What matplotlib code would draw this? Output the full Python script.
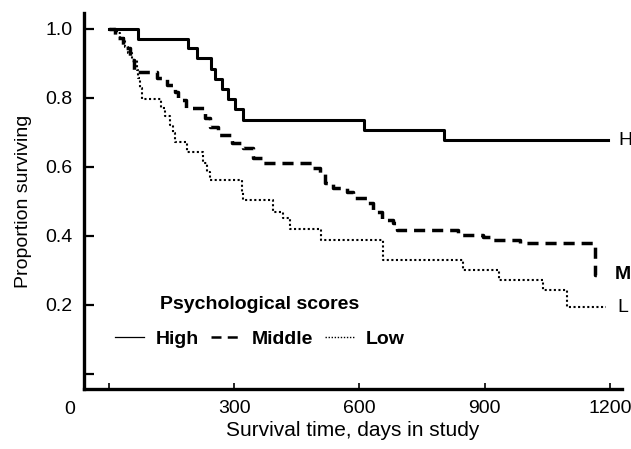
import matplotlib
matplotlib.use("Agg")
import matplotlib.pyplot as plt
from matplotlib.lines import Line2D

plt.rcParams['font.family'] = ['Liberation Sans', 'DejaVu Sans']

# Kaplan-Meier style step curves (days, proportion surviving)
h_days = [0, 70, 190, 210, 245, 255, 270, 285, 302, 320, 612, 802, 1195]
h_surv = [1.0, 0.970, 0.945, 0.915, 0.885, 0.855, 0.825, 0.797, 0.768, 0.735,
          0.707, 0.678, 0.678]

m_days = [0, 14, 34, 50, 60, 115, 139, 158, 165, 185, 230, 242, 261, 295, 320,
          345, 369, 489, 505, 517, 537, 570, 584, 618, 632, 654, 680, 690, 836,
          896, 913, 984, 1164, 1181]
m_surv = [1.0, 0.974, 0.945, 0.91, 0.875, 0.858, 0.838, 0.817, 0.794, 0.771,
          0.742, 0.716, 0.693, 0.67, 0.655, 0.626, 0.61, 0.597, 0.583, 0.554,
          0.539, 0.528, 0.51, 0.496, 0.47, 0.446, 0.438, 0.417, 0.403, 0.397,
          0.388, 0.38, 0.287, 0.287]

l_days = [0, 19, 26, 38, 46, 55, 67, 70, 74, 79, 125, 134, 146, 153, 158, 187,
          225, 235, 242, 318, 321, 393, 417, 434, 508, 657, 847, 934, 1040,
          1097, 1190]
l_surv = [1.0, 0.988, 0.974, 0.948, 0.93, 0.91, 0.881, 0.858, 0.829, 0.797,
          0.771, 0.748, 0.722, 0.697, 0.672, 0.643, 0.611, 0.585, 0.562, 0.528,
          0.504, 0.47, 0.452, 0.42, 0.388, 0.33, 0.301, 0.272, 0.243, 0.194,
          0.194]

x_ticks = [0, 300, 600, 900, 1200]
x_labels = ["", "300", "600", "900", "1200"]
y_ticks = [0, 0.2, 0.4, 0.6, 0.8, 1.0]
y_labels = ["", "0.2", "0.4", "0.6", "0.8", "1.0"]

fig = plt.figure(figsize=(6.31, 4.49), dpi=100)
ax = fig.add_axes([0.1331, 0.1336, 0.8526, 0.8374])

ax.step(h_days, h_surv, where='post', color='black', lw=2.2)
ax.step(m_days, m_surv, where='post', color='black', lw=2.5,
        linestyle=(0, (3.2, 2.0)))
ax.step(l_days, l_surv, where='post', color='black', lw=1.5,
        linestyle=(0, (1, 1.2)))

# end labels
ax.text(h_days[-1] + 25, h_surv[-1], "H", fontsize=14, va='center', clip_on=False)
ax.text(m_days[-1] + 30, m_surv[-1], "M", fontsize=14, va='center',
        fontweight='bold', clip_on=False)
ax.text(l_days[-1] + 28, l_surv[-1], "L", fontsize=14, va='center', clip_on=False)

ax.set_xlim(-60, 1229)
ax.set_ylim(-0.0435, 1.046)
ax.set_xticks(x_ticks)
ax.set_xticklabels(x_labels)
ax.set_yticks(y_ticks)
ax.set_yticklabels(y_labels)
ax.tick_params(axis='y', direction='in', length=7, width=1.6, pad=8, labelsize=14)
ax.tick_params(axis='x', direction='in', length=4, width=1.2, pad=8, labelsize=14)
ax.annotate("0", xy=(0, 0), xycoords='axes fraction', xytext=(-14, -12),
            textcoords='offset pixels', ha='center', va='top', fontsize=14)

for side in ['top', 'right']:
    ax.spines[side].set_visible(False)
ax.spines['left'].set_linewidth(2.4)
ax.spines['bottom'].set_linewidth(2.4)

ax.set_xlabel("Survival time, days in study", fontsize=15, labelpad=3)
ax.set_ylabel("Proportion surviving", fontsize=14, labelpad=10)

handles = [Line2D([], [], color='black', lw=0.9),
           Line2D([], [], color='black', lw=1.8, linestyle=(0, (4, 2.5))),
           Line2D([], [], color='black', lw=1.0, linestyle=(0, (1, 1.2)))]
leg = ax.legend(handles, ["High", "Middle", "Low"], ncol=3, frameon=False,
                title="Psychological scores", loc='center',
                bbox_to_anchor=(0.327, 0.178), title_fontsize=14,
                handlelength=1.5, handletextpad=0.6, columnspacing=0.6,
                labelspacing=0.9, prop={'size': 14, 'weight': 'bold'})
leg.get_title().set_fontweight('bold')

fig.savefig("out.png", dpi=100)
